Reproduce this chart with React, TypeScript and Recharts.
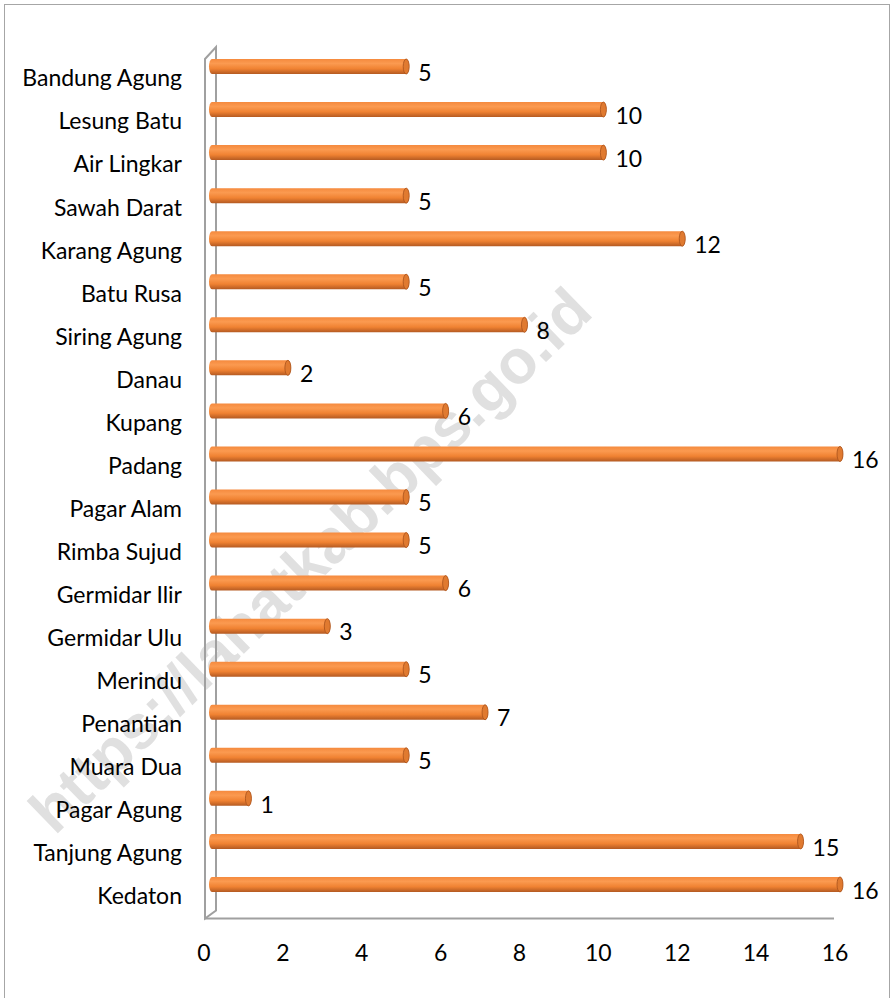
import React from "react";
import { BarChart, Bar, XAxis, YAxis, LabelList, Customized } from "recharts";

const categories = [
  "Bandung Agung", "Lesung Batu", "Air Lingkar", "Sawah Darat", "Karang Agung",
  "Batu Rusa", "Siring Agung", "Danau", "Kupang", "Padang",
  "Pagar Alam", "Rimba Sujud", "Germidar Ilir", "Germidar Ulu", "Merindu",
  "Penantian", "Muara Dua", "Pagar Agung", "Tanjung Agung", "Kedaton",
];
const values = [5, 10, 10, 5, 12, 5, 8, 2, 6, 16, 5, 5, 6, 3, 5, 7, 5, 1, 15, 16];
const xTicks = [0, 2, 4, 6, 8, 10, 12, 14, 16];
const watermark = "https://lahatkab.bps.go.id";

const data = categories.map((name, i) => ({ name, value: values[i] }));

const FONT = "Lato, 'Open Sans', sans-serif";

const Cylinder = (props: any) => {
  const { x, y, width, height } = props;
  if (width == null || width <= 0) return null;
  const ry = height / 2;
  const rx = 3;
  const cy = y + ry;
  return (
    <g>
      <path
        d={`M${x + rx},${y} L${x + width},${y} A${rx},${ry} 0 0 1 ${x + width},${y + height} L${x + rx},${y + height} A${rx},${ry} 0 0 1 ${x + rx},${y} Z`}
        fill="url(#cylGrad)"
      />
      <ellipse cx={x + width} cy={cy} rx={rx} ry={ry} fill="#E07A30" stroke="#A8521C" strokeWidth={0.8} />
    </g>
  );
};

const Walls = (props: any) => {
  const off = props.offset || {};
  const left = off.left ?? 209;
  const top = off.top ?? 45;
  const h = off.height ?? 861;
  const w = off.width ?? 631;
  const fx = left - 4;
  const bx = left + 7;
  const by = top + h + 12.5;
  return (
    <g>
      <polygon
        points={`${fx},${top + 14} ${bx},${top + 2} ${bx},${by - 8} ${fx},${by}`}
        fill="none"
        stroke="#A0A0A0"
        strokeWidth={2}
      />
      <line x1={fx} y1={by} x2={left + w - 6} y2={by} stroke="#A0A0A0" strokeWidth={2} />
    </g>
  );
};

const YTick = (props: any) => {
  const { y, payload } = props;
  return (
    <text x={182} y={y + 14} textAnchor="end" dominantBaseline="middle" fontSize={23} fontFamily={FONT} fill="#000">
      {payload.value}
    </text>
  );
};

const XTick = (props: any) => {
  const { x, payload } = props;
  return (
    <text x={x - 5} y={955} textAnchor="middle" dominantBaseline="middle" fontSize={23} fontFamily={FONT} fill="#000">
      {payload.value}
    </text>
  );
};

export default function App() {
  return (
    <div style={{ position: "absolute", left: 0, top: 0, width: 891, height: 998, background: "#fff", overflow: "hidden" }}>
      <div
        style={{
          position: "absolute",
          left: 4,
          top: 4,
          width: 886,
          height: 1010,
          border: "1.5px solid #A6A6A6",
          boxSizing: "border-box",
        }}
      />
      <div
        style={{
          position: "absolute",
          left: 310,
          top: 560,
          transform: "translate(-50%, -50%) rotate(-44deg)",
          whiteSpace: "nowrap",
          fontFamily: "'Liberation Sans', Arial, sans-serif",
          fontWeight: "bold",
          fontSize: 62,
          color: "#E0E0E0",
        }}
      >
        {watermark}
      </div>
      <div style={{ position: "absolute", left: 0, top: 0 }}>
        <BarChart
          width={891}
          height={998}
          data={data}
          layout="vertical"
          margin={{ top: 45, right: 51, bottom: 62, left: 0 }}
          barCategoryGap={14}
        >
          <defs>
            <linearGradient id="cylGrad" x1="0" y1="0" x2="0" y2="1">
              <stop offset="0%" stopColor="#F58A3E" />
              <stop offset="30%" stopColor="#FB9A50" />
              <stop offset="65%" stopColor="#F08232" />
              <stop offset="100%" stopColor="#B45A22" />
            </linearGradient>
          </defs>
          <Customized component={Walls} />
          <XAxis
            type="number"
            domain={[0, 16]}
            ticks={xTicks}
            axisLine={false}
            tickLine={false}
            tick={<XTick />}
            interval={0}
            height={30}
          />
          <YAxis
            type="category"
            dataKey="name"
            width={209}
            axisLine={false}
            tickLine={false}
            tick={<YTick />}
            interval={0}
          />
          <Bar dataKey="value" barSize={15} shape={<Cylinder />} isAnimationActive={false}>
            <LabelList
              dataKey="value"
              position="right"
              offset={12}
              fontSize={23}
              fontFamily={FONT}
              fill="#000"
              dy={6}
            />
          </Bar>
        </BarChart>
      </div>
    </div>
  );
}
